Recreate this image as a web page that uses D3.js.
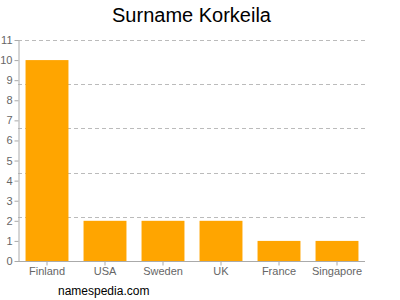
<!DOCTYPE html>
<html>
<head>
<meta charset="utf-8">
<script src="https://cdn.jsdelivr.net/npm/d3@7"></script>
<style>
  body { margin: 0; background: #fff; }
  text { font-family: "Liberation Sans", Arial, sans-serif; }
</style>
</head>
<body>
<div id="chart"></div>
<script>
var countries = ["Finland", "USA", "Sweden", "UK", "France", "Singapore"];
var counts = [10, 2, 2, 2, 1, 1];
var yTicks = [0, 1, 2, 3, 4, 5, 6, 7, 8, 9, 10, 11];
var yMax = 11;

var width = 400, height = 300;
var plotLeft = 18, plotRight = 365, plotTop = 40, plotBottom = 261;

var svg = d3.select("#chart").append("svg")
    .attr("width", width)
    .attr("height", height);

var x = d3.scaleBand()
    .domain(countries)
    .range([plotLeft, 366])
    .paddingInner(0.26)
    .paddingOuter(0.13);

var y = d3.scaleLinear()
    .domain([0, yMax])
    .range([plotBottom, plotTop]);

// dashed grid, range split in five
var grid = d3.range(1, 6).map(function (i) { return yMax * i / 5; });
svg.append("g")
    .selectAll("line")
    .data(grid)
    .enter().append("line")
    .attr("x1", plotLeft)
    .attr("x2", plotRight)
    .attr("y1", function (d) { return Math.round(y(d)) + 0.5; })
    .attr("y2", function (d) { return Math.round(y(d)) + 0.5; })
    .attr("stroke", "#bbb")
    .attr("stroke-dasharray", "4,3");

svg.append("g")
    .selectAll("rect")
    .data(counts)
    .enter().append("rect")
    .attr("x", function (d, i) { return x(countries[i]); })
    .attr("width", x.bandwidth())
    .attr("y", function (d) { return y(d); })
    .attr("height", function (d) { return y(0) - y(d); })
    .attr("fill", "#ffa500");

var yAxis = svg.append("g")
    .attr("transform", "translate(" + (plotLeft + 0.5) + ",0)")
    .call(d3.axisLeft(y).tickValues(yTicks).tickSize(4).tickPadding(2).tickSizeOuter(0));

var xAxis = svg.append("g")
    .attr("transform", "translate(0," + (plotBottom + 0.5) + ")")
    .call(d3.axisBottom(x).tickSize(4).tickPadding(2).tickSizeOuter(0));

xAxis.select(".domain").attr("d", "M" + plotLeft + ",0H" + plotRight);

[yAxis, xAxis].forEach(function (a) {
    a.select(".domain").attr("stroke", "#aaa");
    a.selectAll(".tick line").attr("stroke", "#aaa");
    a.selectAll(".tick text")
        .attr("fill", "#666")
        .style("font-size", "11px")
        .style("font-family", "'Liberation Sans', Arial, sans-serif");
});

svg.append("text")
    .attr("x", (plotLeft + plotRight) / 2)
    .attr("y", 22)
    .attr("text-anchor", "middle")
    .style("font-size", "20px")
    .attr("fill", "#000")
    .text("Surname Korkeila");

svg.append("text")
    .attr("x", 58)
    .attr("y", 295)
    .style("font-size", "12px")
    .attr("fill", "#000")
    .text("namespedia.com");
</script>
</body>
</html>
